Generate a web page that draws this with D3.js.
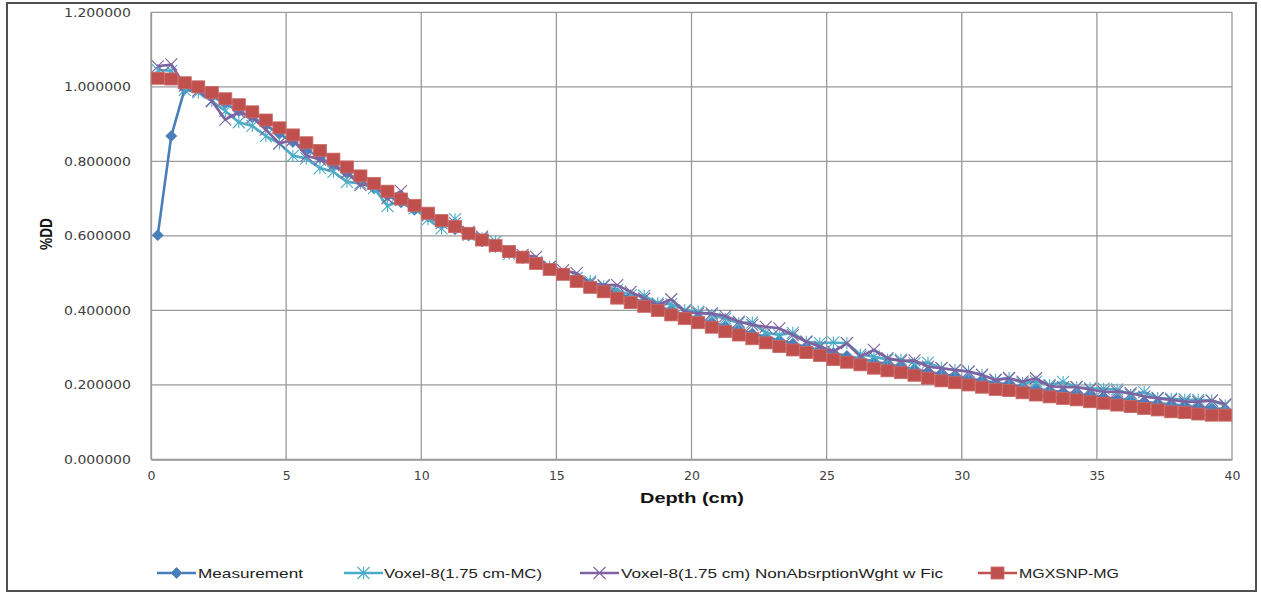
<!DOCTYPE html>
<html>
<head>
<meta charset="utf-8">
<script src="https://cdn.jsdelivr.net/npm/d3@7"></script>
<style>
  html, body { margin: 0; padding: 0; background: #fff; }
  svg { display: block; }
</style>
</head>
<body>
<svg id="chart" width="1261" height="594"></svg>
<script>
// Depth-dose curves: measured vs. simulated percent depth dose along the central axis.
const depth = [
  0.25, 0.75, 1.25, 1.75, 2.25, 2.75, 3.25, 3.75, 4.25, 4.75,
  5.25, 5.75, 6.25, 6.75, 7.25, 7.75, 8.25, 8.75, 9.25, 9.75,
  10.25, 10.75, 11.25, 11.75, 12.25, 12.75, 13.25, 13.75, 14.25, 14.75,
  15.25, 15.75, 16.25, 16.75, 17.25, 17.75, 18.25, 18.75, 19.25, 19.75,
  20.25, 20.75, 21.25, 21.75, 22.25, 22.75, 23.25, 23.75, 24.25, 24.75,
  25.25, 25.75, 26.25, 26.75, 27.25, 27.75, 28.25, 28.75, 29.25, 29.75,
  30.25, 30.75, 31.25, 31.75, 32.25, 32.75, 33.25, 33.75, 34.25, 34.75,
  35.25, 35.75, 36.25, 36.75, 37.25, 37.75, 38.25, 38.75, 39.25, 39.75
];

const measurement = [
  0.602, 0.868, 0.995, 0.995, 0.975, 0.955, 0.935, 0.918, 0.897, 0.874,
  0.852, 0.832, 0.810, 0.790, 0.768, 0.748, 0.728, 0.708, 0.690, 0.670,
  0.652, 0.634, 0.618, 0.601, 0.585, 0.570, 0.555, 0.541, 0.527, 0.512,
  0.498, 0.485, 0.472, 0.459, 0.446, 0.434, 0.422, 0.411, 0.400, 0.389,
  0.378, 0.368, 0.358, 0.348, 0.338, 0.329, 0.320, 0.311, 0.302, 0.294,
  0.286, 0.278, 0.270, 0.263, 0.256, 0.249, 0.242, 0.236, 0.229, 0.223,
  0.217, 0.212, 0.206, 0.201, 0.195, 0.190, 0.185, 0.181, 0.176, 0.172,
  0.167, 0.163, 0.159, 0.155, 0.151, 0.148, 0.144, 0.141, 0.138, 0.135
];

const voxelMC = [
  1.045, 1.043, 0.992, 0.985, 0.962, 0.935, 0.905, 0.895, 0.868, 0.848,
  0.815, 0.808, 0.782, 0.772, 0.745, 0.741, 0.728, 0.680, 0.696, 0.674,
  0.645, 0.620, 0.645, 0.603, 0.594, 0.585, 0.552, 0.544, 0.530, 0.517,
  0.497, 0.487, 0.478, 0.465, 0.455, 0.441, 0.440, 0.419, 0.417, 0.401,
  0.397, 0.388, 0.378, 0.366, 0.368, 0.340, 0.334, 0.340, 0.316, 0.312,
  0.314, 0.312, 0.282, 0.276, 0.268, 0.268, 0.258, 0.260, 0.245, 0.240,
  0.236, 0.227, 0.214, 0.219, 0.205, 0.209, 0.200, 0.208, 0.194, 0.191,
  0.190, 0.188, 0.174, 0.181, 0.165, 0.163, 0.161, 0.160, 0.158, 0.145
];

const voxelNonAbs = [
  1.055, 1.060, 1.003, 0.990, 0.962, 0.912, 0.932, 0.918, 0.885, 0.848,
  0.858, 0.815, 0.805, 0.790, 0.770, 0.736, 0.741, 0.701, 0.720, 0.680,
  0.656, 0.634, 0.634, 0.611, 0.598, 0.571, 0.558, 0.549, 0.544, 0.517,
  0.508, 0.500, 0.473, 0.468, 0.468, 0.450, 0.432, 0.415, 0.430, 0.397,
  0.392, 0.392, 0.385, 0.370, 0.361, 0.356, 0.352, 0.334, 0.316, 0.303,
  0.289, 0.312, 0.276, 0.294, 0.272, 0.264, 0.266, 0.249, 0.245, 0.240,
  0.236, 0.227, 0.213, 0.218, 0.209, 0.218, 0.197, 0.194, 0.194, 0.188,
  0.182, 0.182, 0.178, 0.169, 0.164, 0.160, 0.155, 0.155, 0.158, 0.148
];

const mgxsnp = [
  1.023, 1.021, 1.011, 1.000, 0.985, 0.968, 0.952, 0.933, 0.911, 0.890,
  0.871, 0.850, 0.829, 0.806, 0.785, 0.761, 0.741, 0.720, 0.699, 0.682,
  0.661, 0.641, 0.625, 0.607, 0.589, 0.574, 0.558, 0.543, 0.526, 0.510,
  0.497, 0.478, 0.462, 0.450, 0.433, 0.421, 0.411, 0.400, 0.388, 0.378,
  0.367, 0.355, 0.343, 0.334, 0.324, 0.313, 0.303, 0.294, 0.287, 0.279,
  0.268, 0.261, 0.254, 0.245, 0.238, 0.233, 0.226, 0.218, 0.211, 0.206,
  0.200, 0.194, 0.188, 0.185, 0.179, 0.173, 0.168, 0.164, 0.160, 0.155,
  0.151, 0.146, 0.142, 0.137, 0.133, 0.128, 0.126, 0.122, 0.119, 0.119
];

const xTicks = [0, 5, 10, 15, 20, 25, 30, 35, 40];
const yTicks = [0, 0.2, 0.4, 0.6, 0.8, 1.0, 1.2];
const seriesNames = [
  "Measurement",
  "Voxel-8(1.75 cm-MC)",
  "Voxel-8(1.75 cm) NonAbsrptionWght w Fic",
  "MGXSNP-MG"
];

const series = [
  { name: seriesNames[0], values: measurement, color: "#4A7EBB", marker: "diamond" },
  { name: seriesNames[1], values: voxelMC,     color: "#4BACC6", marker: "star" },
  { name: seriesNames[2], values: voxelNonAbs, color: "#7E62A1", marker: "cross" },
  { name: seriesNames[3], values: mgxsnp,      color: "#C0504D", marker: "square" }
];

const svg = d3.select("#chart");
const W = 1261, H = 594;
const plot = { left: 151, right: 1232, top: 12.3, bottom: 459.5 };

// outer chart frame
svg.append("rect").attr("x", 0).attr("y", 0).attr("width", W).attr("height", H).attr("fill", "#fff");
svg.append("rect")
  .attr("x", 7).attr("y", 3).attr("width", 1249).attr("height", 588)
  .attr("fill", "none").attr("stroke", "#505050").attr("stroke-width", 2);

const x = d3.scaleLinear().domain([0, 40]).range([plot.left, plot.right]);
const y = d3.scaleLinear().domain([0, 1.2]).range([plot.bottom, plot.top]);

// gridlines
const grid = svg.append("g");
grid.selectAll("line.h").data(yTicks).join("line")
  .attr("x1", plot.left).attr("x2", plot.right)
  .attr("y1", d => y(d)).attr("y2", d => y(d))
  .attr("stroke", "#9a9a9a").attr("stroke-width", 1.3);
grid.selectAll("line.v").data(xTicks).join("line")
  .attr("y1", plot.top).attr("y2", plot.bottom)
  .attr("x1", d => x(d)).attr("x2", d => x(d))
  .attr("stroke", "#9a9a9a").attr("stroke-width", 1.3);

// axes (labels only, Excel style)
const tickFont = "DejaVu Sans, Verdana, sans-serif";
const yAxis = svg.append("g")
  .attr("transform", `translate(${plot.left},0)`)
  .call(d3.axisLeft(y).tickValues(yTicks).tickSize(0).tickPadding(20).tickFormat(d3.format(".6f")));
yAxis.select(".domain").attr("stroke", "#9a9a9a").attr("stroke-width", 1.3);
yAxis.selectAll("text")
  .attr("font-family", tickFont).attr("font-size", 12.5).attr("fill", "#404040")
  .attr("textLength", 67).attr("lengthAdjust", "spacingAndGlyphs");

const xAxis = svg.append("g")
  .attr("transform", `translate(0,${plot.bottom})`)
  .call(d3.axisBottom(x).tickValues(xTicks).tickSize(0).tickPadding(12).tickFormat(d3.format("d")));
xAxis.select(".domain").attr("stroke", "#9a9a9a").attr("stroke-width", 1.3);
xAxis.selectAll("text")
  .attr("font-family", tickFont).attr("font-size", 12.5).attr("fill", "#404040");

// axis titles
svg.append("text")
  .attr("x", 692).attr("y", 503)
  .attr("text-anchor", "middle")
  .attr("font-family", "Liberation Sans, Arial, sans-serif")
  .attr("font-weight", "bold").attr("font-size", 15).attr("fill", "#111")
  .attr("textLength", 104).attr("lengthAdjust", "spacingAndGlyphs")
  .text("Depth (cm)");
svg.append("text")
  .attr("transform", "translate(52,234) rotate(-90)")
  .attr("text-anchor", "middle")
  .attr("font-family", "Liberation Sans, Arial, sans-serif")
  .attr("font-weight", "bold").attr("font-size", 17).attr("fill", "#111")
  .attr("textLength", 32).attr("lengthAdjust", "spacingAndGlyphs")
  .text("%DD");

// marker drawing
function drawMarker(g, type, color, cx, cy) {
  if (type === "diamond") {
    g.append("path")
      .attr("d", `M${cx},${cy - 5.5}L${cx + 5.5},${cy}L${cx},${cy + 5.5}L${cx - 5.5},${cy}Z`)
      .attr("fill", color).attr("stroke", color).attr("stroke-width", 0.8);
  } else if (type === "square") {
    g.append("rect")
      .attr("x", cx - 6.5).attr("y", cy - 6).attr("width", 13).attr("height", 12)
      .attr("fill", color).attr("stroke", "#c96a67").attr("stroke-width", 0.8);
  } else if (type === "star") {
    const r = 6;
    g.append("path")
      .attr("d", `M${cx - r},${cy - r}L${cx + r},${cy + r}M${cx - r},${cy + r}L${cx + r},${cy - r}M${cx},${cy - r}L${cx},${cy + r}`)
      .attr("stroke", color).attr("stroke-width", 1.1).attr("fill", "none");
  } else if (type === "cross") {
    const r = 6;
    g.append("path")
      .attr("d", `M${cx - r},${cy - r}L${cx + r},${cy + r}M${cx - r},${cy + r}L${cx + r},${cy - r}`)
      .attr("stroke", color).attr("stroke-width", 1.1).attr("fill", "none");
  }
}

// series lines and markers
const line = d3.line().x(d => x(d[0])).y(d => y(d[1]));
series.forEach(s => {
  const pts = depth.map((d, i) => [d, s.values[i]]);
  const g = svg.append("g");
  g.append("path")
    .attr("d", line(pts))
    .attr("fill", "none").attr("stroke", s.color)
    .attr("stroke-width", 2.6).attr("stroke-linejoin", "round");
  pts.forEach(p => drawMarker(g, s.marker, s.color, x(p[0]), y(p[1])));
});

// legend
const legendItems = [
  { lineX: 157, textX: 198, textW: 105 },
  { lineX: 344, textX: 384, textW: 158 },
  { lineX: 580, textX: 621, textW: 322 },
  { lineX: 978, textX: 1019, textW: 100 }
];
const legY = 573;
const legend = svg.append("g");
series.forEach((s, i) => {
  const it = legendItems[i];
  legend.append("line")
    .attr("x1", it.lineX).attr("x2", it.lineX + 39)
    .attr("y1", legY).attr("y2", legY)
    .attr("stroke", s.color).attr("stroke-width", 2.6);
  drawMarker(legend, s.marker, s.color, it.lineX + 19.5, legY);
  legend.append("text")
    .attr("x", it.textX).attr("y", legY + 4.5)
    .attr("font-family", "Liberation Sans, Arial, sans-serif")
    .attr("font-size", 13).attr("fill", "#222")
    .attr("textLength", it.textW).attr("lengthAdjust", "spacingAndGlyphs")
    .text(s.name);
});
</script>
</body>
</html>
